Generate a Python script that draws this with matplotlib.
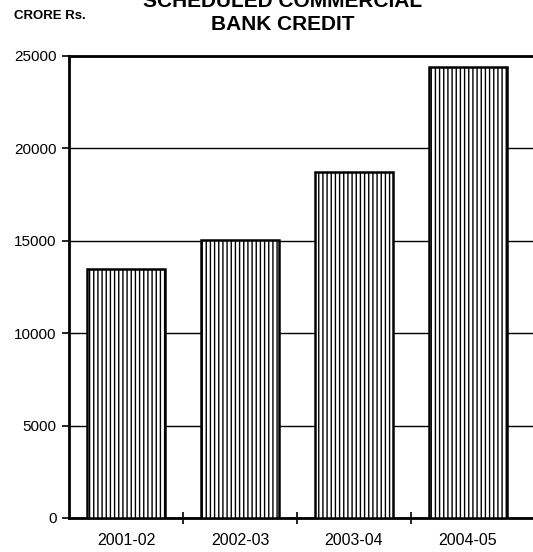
import matplotlib
matplotlib.use("Agg")
import matplotlib.pyplot as plt
from matplotlib.ticker import FixedLocator

plt.rcParams['font.family'] = ['Liberation Sans', 'DejaVu Sans']
plt.rcParams['hatch.linewidth'] = 1.0

categories = ['2001-02', '2002-03', '2003-04', '2004-05']
credit = [13450, 15050, 18700, 24400]
yticks = [0, 5000, 10000, 15000, 20000, 25000]

fig = plt.figure(figsize=(5.33, 5.52), dpi=100)
ax = fig.add_axes([0.1295, 0.0616, 0.8705, 0.837])

x = range(len(categories))
ax.bar(x, credit, width=0.68, color='white', edgecolor='black',
       linewidth=1.8, hatch='||||', zorder=3)

ax.set_xlim(-0.5, 3.57)
ax.set_ylim(0, 25000)
ax.set_yticks(yticks)
ax.set_yticklabels([str(v) for v in yticks], fontsize=11)
ax.yaxis.grid(True, color='black', linewidth=1.0, zorder=0)
ax.set_axisbelow(True)

ax.set_xticks(list(x))
ax.set_xticklabels(categories, fontsize=11.5)
ax.tick_params(axis='x', length=0, pad=11)
ax.xaxis.set_minor_locator(FixedLocator([0.5, 1.5, 2.5]))
ax.tick_params(axis='x', which='minor', length=8, direction='inout', width=1.2)
ax.tick_params(axis='y', length=5, direction='out', width=1.2, pad=4)

for s in ['left', 'bottom', 'top']:
    ax.spines[s].set_linewidth(2.0)
ax.spines['right'].set_visible(False)

fig.text(0.53, 0.998, 'SCHEDULED COMMERCIAL', ha='center', va='center',
         fontsize=15, fontweight='bold')
fig.text(0.53, 0.955, 'BANK CREDIT', ha='center', va='center',
         fontsize=15, fontweight='bold')
fig.text(0.026, 0.971, 'CRORE Rs.', ha='left', va='center',
         fontsize=9.5, fontweight='bold')

fig.savefig('out.png', dpi=100)
